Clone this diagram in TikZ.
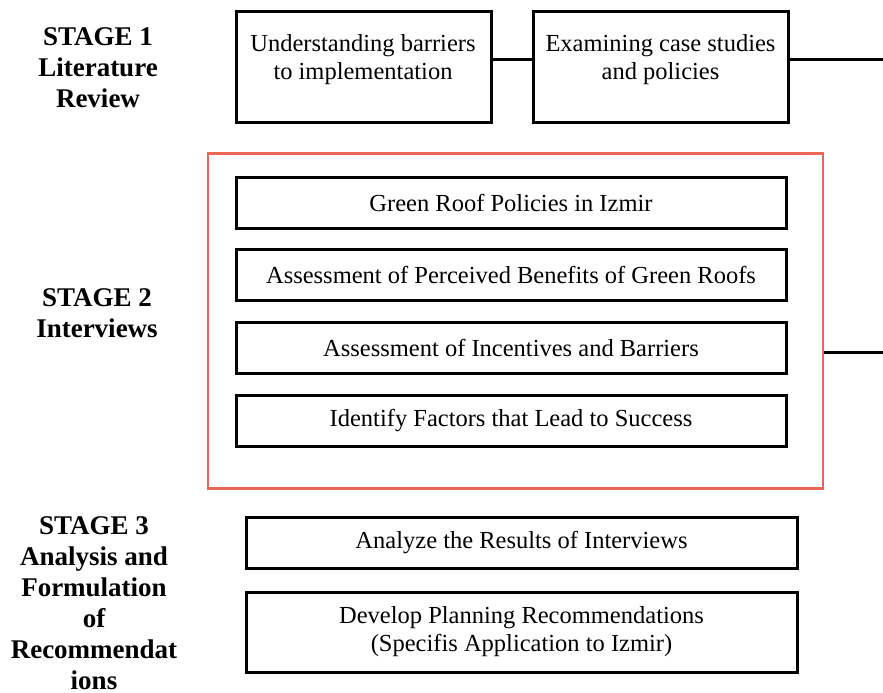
\documentclass[tikz,border=0pt]{standalone}
\usepackage{fontspec}
\setmainfont{Liberation Serif}
\definecolor{frameRed}{RGB}{235,102,86}
\begin{document}
\begin{tikzpicture}[x=1pt,y=-1pt,
  box/.style={draw=black,line width=3pt,inner sep=0pt},
  boxtext/.style={font=\rmfamily\fontsize{24.5}{28}\selectfont,align=center,inner sep=0pt},
  stagelabel/.style={font=\rmfamily\fontsize{27}{31}\selectfont\bfseries,align=center,inner sep=0pt},
  link/.style={draw=black,line width=3pt}]
\useasboundingbox (0,0) rectangle (883,693);
% Stage 1
\node[stagelabel] (s1) at (98,68) {STAGE 1\\Literature\\Review};
\node[box,minimum width=255pt,minimum height=110pt] (b1) at (364,67) {};
\node[boxtext] (t1) at (363,60) {Understanding barriers\\to implementation};
\node[box,minimum width=255pt,minimum height=110pt] (b2) at (660.5,67) {};
\node[boxtext] (t2) at (660.5,60) {Examining case studies\\and policies};
\coordinate (e1) at (885,60);
\draw[link] (b1.east |- 0,60) -- (b2.west |- 0,60);
\draw[link] (b2.east |- 0,60) -- (e1);
% Stage 2
\node[stagelabel] (s2) at (97,313) {STAGE 2\\Interviews};
\node[draw=frameRed,line width=2.5pt,minimum width=615pt,minimum height=335pt,inner sep=0pt] (red) at (515.5,321) {};
\node[box,boxtext,minimum width=550pt,minimum height=51pt] (ba) at (511,203) {Green Roof Policies in Izmir};
\node[box,boxtext,minimum width=550pt,minimum height=51pt] (bb) at (511,275) {Assessment of Perceived Benefits of Green Roofs};
\node[box,boxtext,minimum width=550pt,minimum height=51pt] (bc) at (511,348) {Assessment of Incentives and Barriers};
\node[box,boxtext,minimum width=550pt,minimum height=51pt] (bd) at (511,421) {Identify Factors that Lead to Success};
\coordinate (e2) at (885,352);
\draw[link] (red.east |- 0,352) -- (e2);
% Stage 3
\node[stagelabel] (s3) at (94,603) {STAGE 3\\Analysis and\\Formulation\\of\\Recommendat\\ions};
\node[box,boxtext,minimum width=551pt,minimum height=51pt] (be) at (521.5,543) {Analyze the Results of Interviews};
\node[box,boxtext,minimum width=551pt,minimum height=80pt] (bf) at (521.5,632) {Develop Planning Recommendations\\(Specifis Application to Izmir)};
\end{tikzpicture}
\end{document}
